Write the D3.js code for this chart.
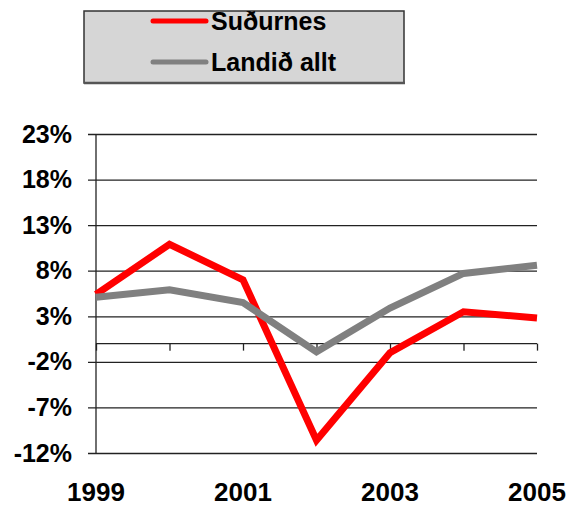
<!DOCTYPE html>
<html>
<head>
<meta charset="utf-8">
<script src="https://cdn.jsdelivr.net/npm/d3@7"></script>
<style>
  body { margin: 0; background: #fff; }
  svg { display: block; font-family: "Liberation Sans", Arial, sans-serif; }
</style>
</head>
<body>
<div id="chart"></div>
<script>
// Chart data
const years = [1999, 2000, 2001, 2002, 2003, 2004, 2005];
const sudurnes = [5.4, 10.9, 7.0, -10.6, -1.0, 3.5, 2.8];
const landidAllt = [5.1, 5.9, 4.5, -0.9, 3.9, 7.7, 8.6];
const yTicks = [-12, -7, -2, 3, 8, 13, 18, 23];
const xLabels = [1999, 2001, 2003, 2005];
const seriesNames = ["Suðurnes", "Landið allt"];
const seriesColors = ["#ff0000", "#808080"];

function drawChart()
{
    var width = 570, height = 506;
    var margin = { top: 134, right: 33, bottom: 53, left: 96 };
    var innerW = width - margin.left - margin.right,
        innerH = height - margin.top - margin.bottom;

    var svg = d3.select("#chart")
        .append("svg")
        .attr("width", width)
        .attr("height", height);

    // Legend box (partly cut off at the top like the original)
    var legend = svg.append("g");
    legend.append("rect")
        .attr("x", 84)
        .attr("y", 11)
        .attr("width", 320)
        .attr("height", 72)
        .attr("fill", "#d6d6d6")
        .attr("stroke", "#333")
        .attr("stroke-width", 1.5);
    legend.append("line")
        .attr("x1", 84).attr("x2", 405)
        .attr("y1", 83).attr("y2", 83)
        .attr("stroke", "#555")
        .attr("stroke-width", 2.5);

    seriesNames.forEach((name, i) => {
        var ly = 21 + i * 41;
        legend.append("line")
            .attr("x1", 153).attr("x2", 206)
            .attr("y1", ly).attr("y2", ly)
            .attr("stroke", seriesColors[i])
            .attr("stroke-width", 5)
            .attr("stroke-linecap", "round");
        legend.append("text")
            .attr("x", 211)
            .attr("y", ly + 9)
            .style("font-size", "25px")
            .style("font-weight", "bold")
            .text(name);
    });

    var g = svg.append("g")
        .attr("transform", "translate(" + margin.left + "," + margin.top + ")");

    // Scales
    var x = d3.scalePoint()
        .domain(years)
        .range([0, innerW]);

    var y = d3.scaleLinear()
        .domain([-12, 23])
        .range([innerH, 0]);

    // Horizontal gridlines with small ticks on the left
    var yAxis = g.append("g")
        .call(d3.axisLeft(y)
            .tickValues(yTicks)
            .tickSize(-innerW)
            .tickPadding(24)
            .tickFormat(d => d + "%"));
    yAxis.select(".domain").remove();
    yAxis.selectAll(".tick line")
        .attr("x1", -8)
        .attr("stroke", "#222")
        .attr("stroke-width", 1.3);
    yAxis.selectAll(".tick text")
        .attr("fill", "#000")
        .style("font-size", "25px")
        .style("font-weight", "bold")
        .style("font-family", "Liberation Sans, Arial, sans-serif");

    // Vertical axis line
    g.append("line")
        .attr("x1", 0).attr("x2", 0)
        .attr("y1", 0).attr("y2", innerH)
        .attr("stroke", "#222")
        .attr("stroke-width", 1.3);

    // Category axis at zero
    var xAxis = g.append("g")
        .attr("transform", "translate(0," + y(0) + ")")
        .call(d3.axisBottom(x).tickSize(7).tickFormat(""));
    xAxis.select(".domain")
        .attr("d", "M0,0H" + innerW)
        .attr("stroke", "#222")
        .attr("stroke-width", 1.3);
    xAxis.selectAll(".tick line")
        .attr("stroke", "#222")
        .attr("stroke-width", 1.3);

    // Year labels along the bottom
    g.selectAll(".year-label")
        .data(xLabels)
        .enter()
        .append("text")
        .attr("class", "year-label")
        .attr("x", d => x(d))
        .attr("y", innerH + 48)
        .attr("text-anchor", "middle")
        .style("font-size", "26px")
        .style("font-weight", "bold")
        .text(d => d);

    // Lines, red first so the grey one sits on top
    var line = d3.line()
        .x((d, i) => x(years[i]))
        .y(d => y(d));

    [sudurnes, landidAllt].forEach((data, k) => {
        g.append("path")
            .datum(data)
            .attr("fill", "none")
            .attr("stroke", seriesColors[k])
            .attr("stroke-width", 7)
            .attr("stroke-linejoin", "miter")
            .attr("d", line);
    });
}

drawChart();
</script>
</body>
</html>
